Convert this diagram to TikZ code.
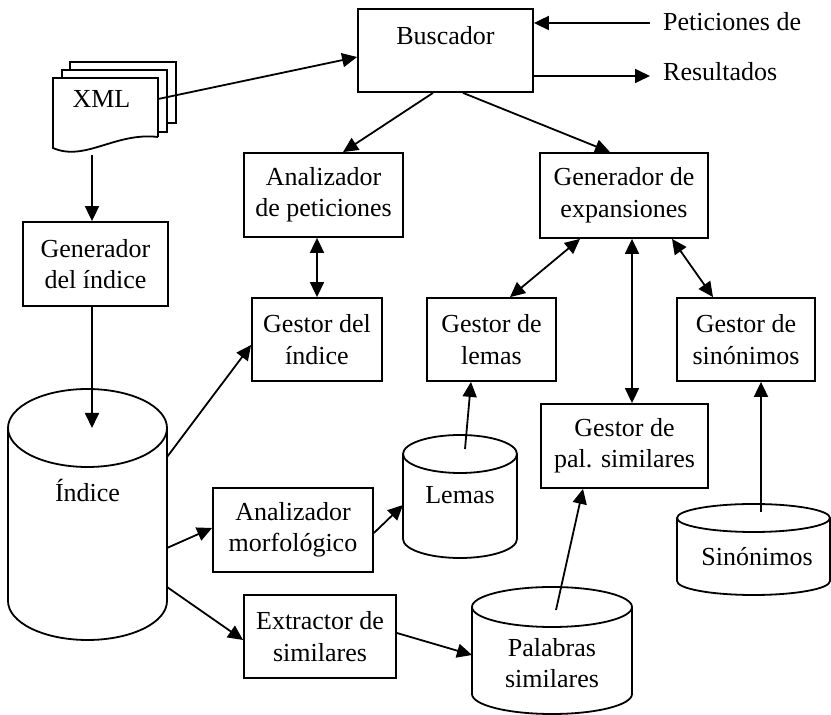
\documentclass[tikz,border=0pt]{standalone}
\usepackage{fontspec}
\setmainfont{Liberation Serif}
\usetikzlibrary{arrows.meta}

\tikzset{
  box/.style={draw, line width=1.8pt, align=center, inner sep=0pt},
  dbarea/.style={inner sep=0pt, outer sep=0pt},
  conn/.style={-{Triangle[length=15pt,width=14pt]}, line width=1.8pt},
  dconn/.style={{Triangle[length=15pt,width=14pt]}-{Triangle[length=15pt,width=14pt]}, line width=1.8pt},
}

% cylinder: name, x, y, width, height, radius of the end ellipse
\newcommand{\dbcyl}[6]{%
  \node[dbarea, minimum width=#4pt, minimum height=#5pt] (#1) at (#2,#3) {};
  \draw[line width=1.8pt] ([yshift=-#6pt]#1.north west) -- ([yshift=#6pt]#1.south west)
    arc[start angle=180, end angle=360, x radius=#4pt/2, y radius=#6pt]
    -- ([yshift=-#6pt]#1.north east);
  \draw[line width=1.8pt] ([yshift=-#6pt]#1.north) ellipse [x radius=#4pt/2, y radius=#6pt];
}

\begin{document}
\begin{tikzpicture}[x=1pt, y=1pt, font=\fontsize{26}{31.5}\selectfont]

    \useasboundingbox (0,0) rectangle (831,715);

    % XML documents
    \draw[line width=1.8pt] (70,645) -- (70,653) -- (176,653) -- (176,592) -- (167,592);
    \draw[line width=1.8pt] (62,637) -- (62,645) -- (167,645) -- (167,583) -- (158,583);
    \draw[line width=1.8pt, fill=white] (158,578) -- (158,637) -- (53,637) -- (53,567)
        .. controls (85,553) and (115,583) .. (158,578);
    \node[inner sep=0pt, minimum width=113pt] (xml) at (101.5,616) {XML};
    \coordinate (xmlbot) at (92,560);

    % boxes
    \node[draw, line width=1.8pt, inner sep=0pt, minimum width=175pt,
          text height=36pt, text depth=47pt] (busc) at (445.5,664.5) {Buscador};
    \node[anchor=base west, inner sep=0pt] (pet) at (663,684) {Peticiones de};
    \node[anchor=base west, inner sep=0pt] (res) at (663,634) {Resultados};

    \node[box, minimum width=159pt, minimum height=84pt] (apet) at (323.5,520) {Analizador\\de peticiones};
    \node[box, minimum width=168pt, minimum height=85pt] (gexp) at (624,519.5) {Generador de\\expansiones};
    \node[box, minimum width=145pt, minimum height=84pt] (gind) at (95.5,451) {Generador\\del índice};
    \node[box, minimum width=130pt, minimum height=83pt] (gidx) at (317,375.5) {Gestor del\\índice};
    \node[box, minimum width=129pt, minimum height=83pt] (glem) at (491.5,375.5) {Gestor de\\lemas};
    \node[box, minimum width=138pt, minimum height=83pt] (gsin) at (746,375.5) {Gestor de\\sinónimos};
    \node[box, minimum width=167pt, minimum height=84pt] (gpal) at (624.5,269) {Gestor de\\pal. similares};
    \node[box, minimum width=160pt, minimum height=84pt] (amor) at (293,185) {Analizador\\morfológico};
    \node[box, minimum width=152pt, minimum height=83pt] (extr) at (320,78.5) {Extractor de\\similares};

    % databases
    \dbcyl{idx}{87.5}{200.5}{159}{251}{39}
    \dbcyl{lem}{460}{218.5}{114}{123}{19}
    \dbcyl{pal}{552}{64.5}{160}{127}{20}
    \dbcyl{sin}{753.5}{165.5}{153}{91}{14}

    \node (idxtxt) at (87.5,225) {Índice};
    \node (lemtxt) at (460,220) {Lemas};
    \node[align=center, inner sep=0pt] (paltxt) at (552,52) {Palabras\\similares};
    \node (sintxt) at (757,158) {Sinónimos};

    % connectors
    \draw[conn] (xml.east) -- ([yshift=-6.5pt]busc.west);
    \draw[conn] ([shift={(-13pt,8pt)}]pet.base west) -- ([yshift=27.5pt]busc.east);
    \draw[conn] ([yshift=-25.5pt]busc.east) -- ([shift={(-13pt,5pt)}]res.base west);
    \draw[conn] ([xshift=-12.5pt]busc.south) -- ([xshift=19.5pt]apet.north);
    \draw[conn] ([xshift=17.5pt]busc.south) -- ([xshift=-14pt]gexp.north);

    \draw[conn] (xmlbot) -- (xmlbot |- gind.north);
    \draw[conn] ([xshift=-3.5pt]gind.south) -- ([shift={(4.5pt,-39pt)}]idx.north);

    \draw[dconn] (gidx.north |- apet.south) -- (gidx.north);
    \draw[dconn] ([xshift=-44pt]gexp.south) -- ([xshift=18.5pt]glem.north);
    \draw[dconn] ([xshift=8pt]gexp.south) -- ([xshift=7.5pt]gpal.north);
    \draw[dconn] ([xshift=48pt]gexp.south) -- ([xshift=-33pt]gsin.north);

    \draw[conn] ([yshift=57.5pt]idx.east) -- ([yshift=-5.5pt]gidx.west);
    \draw[conn] ([yshift=-33.5pt]idx.east) -- ([yshift=2pt]amor.west);
    \draw[conn] ([yshift=-72.5pt]idx.east) -- ([yshift=-3.5pt]extr.west);
    \draw[conn] ([yshift=-3pt]amor.east) -- ([yshift=-8.5pt]lem.west);
    \draw[conn] ([yshift=3.5pt]extr.east) -- ([yshift=-4.5pt]pal.west);

    \draw[conn] ([shift={(5pt,-14pt)}]lem.north) -- ([xshift=-20.5pt]glem.south);
    \draw[conn] ([shift={(4pt,-23pt)}]pal.north) -- ([xshift=-41.5pt]gpal.south);
    \draw[conn] ([shift={(7.5pt,-8pt)}]sin.north) -- ([xshift=15pt]gsin.south);

\end{tikzpicture}
\end{document}
